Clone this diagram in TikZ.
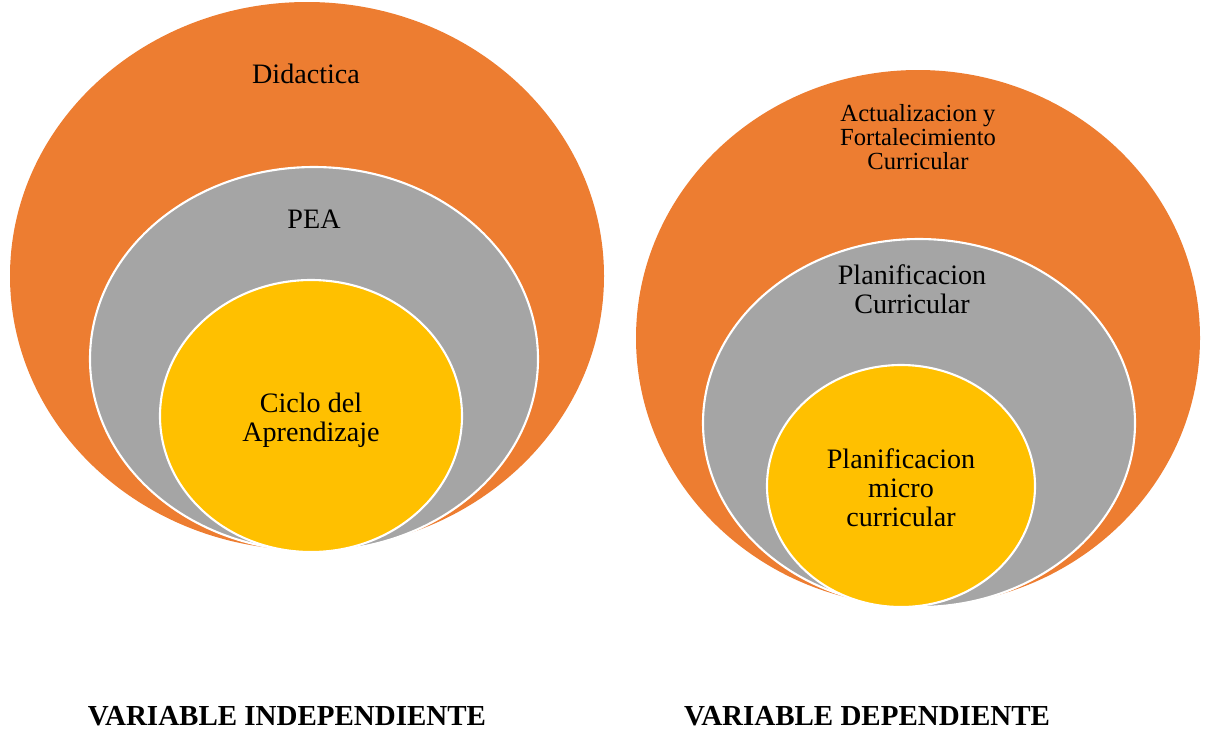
\documentclass[tikz,border=0pt]{standalone}
\usepackage{fontspec}
\setmainfont{Liberation Serif}
\usetikzlibrary{positioning}
\definecolor{orangeA}{HTML}{ED7D31}
\definecolor{grayA}{HTML}{A5A5A5}
\definecolor{goldA}{HTML}{FFC000}

\begin{document}
\begin{tikzpicture}[x=0.02cm, y=-0.02cm,
    outer/.style={fill=orangeA},
    middle/.style={fill=grayA, draw=white, line width=1.2pt},
    inner/.style={fill=goldA, draw=white, line width=1.2pt},
    label/.style={align=center, font=\fontsize{16}{16.5}\selectfont, inner sep=0pt},
    small label/.style={align=center, font=\fontsize{14}{13.6}\selectfont, inner sep=0pt},
    title/.style={font=\fontsize{16.5}{18}\selectfont\bfseries, inner sep=0pt}]
    \useasboundingbox (0,0) rectangle (1207,731);
    % variable independiente
    \path[outer]  (307,276) ellipse [x radius=297, y radius=274];
    \path[middle] (314,359) ellipse [x radius=224, y radius=192];
    \path[inner]  (311,416) ellipse [x radius=151, y radius=136];
    \node [label] (didac) at (306,74)  {Didactica};
    \node [label] (pea)   at (314,219) {PEA};
    \node [label] (ciclo) at (311,420) {Ciclo del\\Aprendizaje};
    % variable dependiente
    \path[outer]  (918,338) ellipse [x radius=282, y radius=268];
    \path[middle] (919,423) ellipse [x radius=216, y radius=184];
    \path[inner]  (901,486) ellipse [x radius=134, y radius=121];
    \node [small label] (actual) at (918,137) {Actualizacion y\\Fortalecimiento\\Curricular};
    \node [label] (plancur)  at (912,289) {Planificacion\\Curricular};
    \node [label] (planmic)  at (901,488) {Planificacion\\micro\\curricular};
    % titulos
    \node [title] (indep) at (287,716) {VARIABLE INDEPENDIENTE};
    \node [title] (dep)   at (867,716) {VARIABLE DEPENDIENTE};
\end{tikzpicture}
\end{document}
